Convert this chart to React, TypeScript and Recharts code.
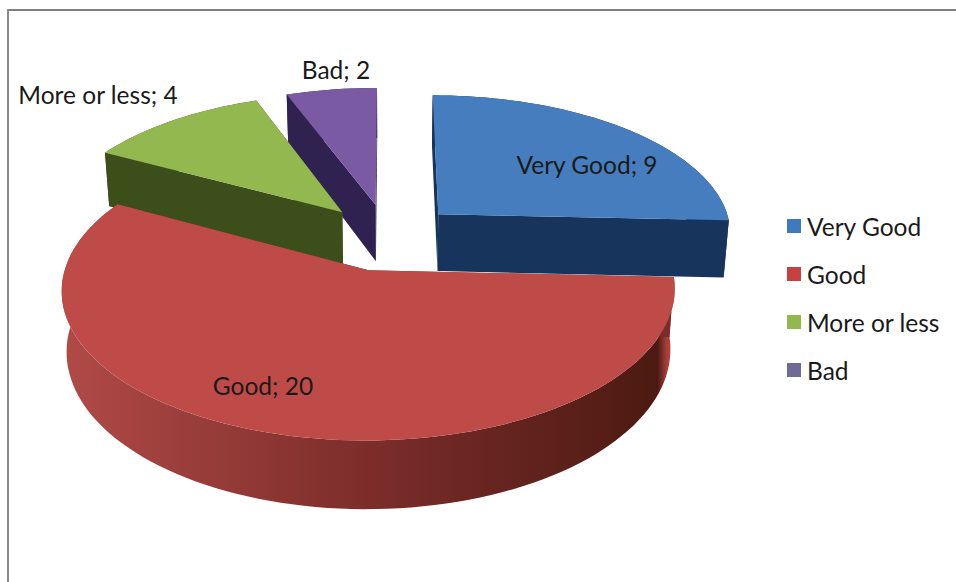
import React from "react";
import { PieChart, Pie, Legend } from "recharts";

const categories = ["Very Good", "Good", "More or less", "Bad"];
const counts = [9, 20, 4, 2];
const topColors = ["#467DBE", "#BE4B48", "#93B84F", "#7A5AA3"];
const wallColors = ["#17355C", "#7A2C2A", "#3C4E1A", "#2F2250"];
const legendColors = ["#3F79BF", "#C8403F", "#93B84F", "#6F6A96"];

const WIDTH = 956;
const HEIGHT = 582;
const FONT = "Lato, 'Open Sans', sans-serif";

// Oblique view of the disc
const CENTER_X = 388;
const CENTER_Y = 237;
const RADIUS = 295;
const EXPLODE = 71;
const TILT = 0.4725;
const PERSPECTIVE = 0.000429;
const THICKNESS = 58;
const DEPTH_SHRINK = 0.00026;

// Text placement relative to the pie centre
const labelOffsets: Record<string, [number, number]> = {
  "Very Good": [199, -73],
  Good: [-125, 148],
  "More or less": [-290, -143],
  Bad: [-52, -168],
};

// Slices are laid counter-clockwise from the top so the front slices paint last
const slices = categories
  .map((name, i) => ({ name, value: counts[i], top: topColors[i], wall: wallColors[i] }))
  .reverse();

const project = (wx: number, wy: number, drop: number) => {
  const s = 1 / (1 - PERSPECTIVE * wy);
  return [CENTER_X + wx * s * (1 - DEPTH_SHRINK * drop), CENTER_Y + (TILT * wy + drop) * s];
};

const toPath = (pts: number[][]) =>
  "M" + pts.map((p) => `${p[0].toFixed(1)} ${p[1].toFixed(1)}`).join("L") + "Z";

const Slice3D = (props: any) => {
  const { startAngle, endAngle, outerRadius, payload, name, top, wall } = props;
  const sliceName = name ?? payload?.name;
  const topFill = top ?? payload?.top;
  const wallFill = wall ?? payload?.wall;
  const rad = Math.PI / 180;
  const mid = ((startAngle + endAngle) / 2) * rad;
  const ox = EXPLODE * Math.cos(mid);
  const oy = -EXPLODE * Math.sin(mid);
  const steps = Math.max(2, Math.ceil(Math.abs(endAngle - startAngle) / 2));
  const rim: number[][] = [];
  for (let i = 0; i <= steps; i++) {
    const a = (startAngle + ((endAngle - startAngle) * i) / steps) * rad;
    rim.push([ox + outerRadius * Math.cos(a), oy - outerRadius * Math.sin(a)]);
  }
  const upper = (p: number[]) => project(p[0], p[1], 0);
  const lower = (p: number[]) => project(p[0], p[1], THICKNESS);
  const apex = [ox, oy];
  const first = rim[0];
  const last = rim[rim.length - 1];
  const rimFill = sliceName === "Good" ? "url(#goodRim)" : wallFill;
  return (
    <g>
      <path d={toPath([...rim.map(upper), ...[...rim].reverse().map(lower)])} fill={rimFill} />
      <path d={toPath([upper(apex), upper(first), lower(first), lower(apex)])} fill={wallFill} />
      <path d={toPath([upper(apex), upper(last), lower(last), lower(apex)])} fill={wallFill} />
      <path d={toPath([upper(apex), ...rim.map(upper)])} fill={topFill} />
    </g>
  );
};

const SliceLabel = (props: any) => {
  const { name, value } = props;
  const offset = labelOffsets[name];
  return (
    <text
      x={CENTER_X + offset[0]}
      y={CENTER_Y + offset[1]}
      textAnchor="middle"
      dominantBaseline="central"
      fontFamily={FONT}
      fontSize={24.5}
      fill="#1a1a1a"
    >
      {`${name}; ${value}`}
    </text>
  );
};

const LegendList = () => (
  <div style={{ fontFamily: FONT, fontSize: 24.5, color: "#1a1a1a" }}>
    {categories.map((name, i) => (
      <div key={name} style={{ display: "flex", alignItems: "center", height: 48 }}>
        <span style={{ width: 14, height: 14, background: legendColors[i], marginRight: 6 }} />
        {name}
      </div>
    ))}
  </div>
);

export default function App() {
  return (
    <div style={{ position: "absolute", left: 0, top: 0, width: WIDTH, height: HEIGHT, background: "#fff" }}>
      <div style={{ position: "absolute", left: 7, top: 9, right: 0, height: 2, background: "#7f7f7f" }} />
      <div style={{ position: "absolute", left: 7, top: 9, bottom: 0, width: 2, background: "#8a8a8a" }} />
      <PieChart width={WIDTH} height={HEIGHT} margin={{ top: 0, right: 0, bottom: 0, left: 0 }}>
        <defs>
          <linearGradient id="goodRim" gradientUnits="userSpaceOnUse" x1="62" y1="0" x2="676" y2="0">
            <stop offset="0" stopColor="#B04A47" />
            <stop offset="0.5" stopColor="#7C2D2A" />
            <stop offset="0.97" stopColor="#4C1A12" />
            <stop offset="0.985" stopColor="#A83F3B" />
            <stop offset="1" stopColor="#B5453F" />
          </linearGradient>
        </defs>
        <Pie
          data={slices}
          dataKey="value"
          nameKey="name"
          cx={CENTER_X}
          cy={CENTER_Y}
          innerRadius={0}
          outerRadius={RADIUS}
          startAngle={90}
          endAngle={450}
          paddingAngle={0}
          stroke="none"
          isAnimationActive={false}
          shape={Slice3D}
          label={SliceLabel}
          labelLine={false}
        />
        <Legend
          layout="vertical"
          content={LegendList}
          wrapperStyle={{ position: "absolute", left: 787, top: 202, width: 169, height: 192 }}
        />
      </PieChart>
    </div>
  );
}
